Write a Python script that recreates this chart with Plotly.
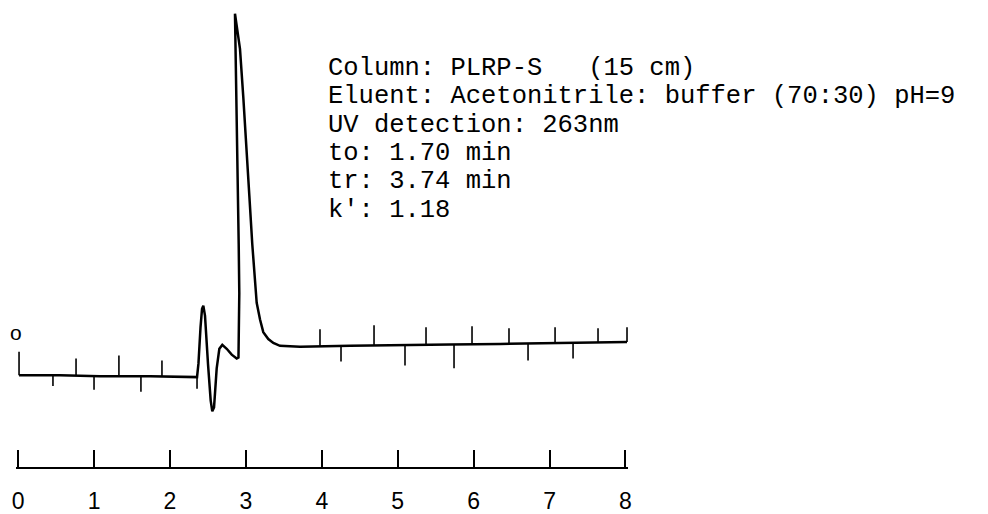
import numpy as np
import plotly.graph_objects as go

# Detector trace: retention time (min) and response (mAU)
trace_time = [0.011, 0.551, 1.078, 1.736, 2.356, 2.375, 2.402, 2.422, 2.439, 2.461,
              2.501, 2.536, 2.557, 2.580, 2.615, 2.650, 2.689, 2.747, 2.813, 2.879,
              2.902, 2.913, 2.905, 2.896, 2.887, 2.879, 2.870, 2.856, 2.876, 2.922,
              2.966, 3.001, 3.045, 3.084, 3.133, 3.142, 3.186, 3.229, 3.295, 3.361,
              3.449, 3.713, 4.372, 5.030, 5.689, 6.348, 7.138, 8.021]
trace_resp = [0.0, 0.0, -0.1, -0.1, -0.2, 1.2, 4.9, 6.8, 7.1, 6.1,
              1.1, -2.6, -3.7, -3.3, 0.7, 2.7, 3.1, 2.7, 2.1, 1.7,
              1.8, 8.4, 13.4, 18.4, 23.4, 28.4, 33.4, 37.0, 35.9, 33.4,
              28.4, 23.4, 18.4, 13.4, 8.4, 7.4, 5.7, 4.4, 3.7, 3.3,
              3.0, 2.9, 3.0, 3.1, 3.15, 3.2, 3.3, 3.4]

# Recorder event marks along the baseline: time and tip response
mark_time = [0.011, 0.458, 0.762, 0.999, 1.327, 1.617, 1.894, 2.356,
             3.976, 4.253, 4.688, 5.096, 5.373, 5.742, 5.979, 6.466,
             6.717, 7.073, 7.310, 7.639, 8.021]
mark_tip = [2.4, -1.1, 1.7, -1.5, 2.0, -1.7, 1.5, -1.4,
            4.7, 1.4, 5.1, 1.0, 4.9, 0.7, 5.0, 4.8,
            1.5, 4.9, 1.7, 4.8, 4.9]

# Time scale
tick_values = [0, 1, 2, 3, 4, 5, 6, 7, 8]
tick_labels = ["0", "1", "2", "3", "4", "5", "6", "7", "8"]

# Run conditions
info_lines = [
    "Column: PLRP-S   (15 cm)",
    "Eluent: Acetonitrile: buffer (70:30) pH=9",
    "UV detection: 263nm",
    "to: 1.70 min",
    "tr: 3.74 min",
    "k': 1.18",
]

t = np.array(trace_time)
r = np.array(trace_resp)
outside_peak = (t < 2.36) | (t > 3.44)
mark_base = np.interp(mark_time, t[outside_peak], r[outside_peak])

mx, my = [], []
for tm, b, tip in zip(mark_time, mark_base, mark_tip):
    mx += [tm, tm, None]
    my += [b, tip, None]

fig = go.Figure()
fig.add_trace(go.Scatter(x=mx, y=my, mode="lines",
                         line=dict(color="black", width=1.6),
                         hoverinfo="skip", showlegend=False))
fig.add_trace(go.Scatter(x=trace_time, y=trace_resp, mode="lines",
                         line=dict(color="black", width=2.5),
                         showlegend=False))

# Conditions block, one annotation per line (paper coordinates)
plot_h = 478
for i, txt in enumerate(info_lines):
    y_px = 70 + i * 29
    fig.add_annotation(x=(326 - 16) / 612, y=1 - y_px / plot_h, xref="paper", yref="paper",
                       text=txt, showarrow=False, xanchor="left", yanchor="middle",
                       font=dict(family="Liberation Mono", size=25.5, color="black"))

# Zero marker of the recorder trace
fig.add_annotation(x=0.0, y=1 - 340 / plot_h, xref="paper", yref="paper", text="o",
                   showarrow=False, xanchor="center", yanchor="middle",
                   font=dict(family="Liberation Sans", size=21, color="black"))

fig.update_layout(
    width=988, height=514,
    margin=dict(l=16, r=360, t=0, b=36),
    paper_bgcolor="white", plot_bgcolor="white",
    xaxis=dict(range=[-0.029, 8.034], showgrid=False, zeroline=False,
               showline=True, linecolor="black", linewidth=2,
               ticks="inside", ticklen=17, tickwidth=1.8, tickcolor="black",
               tickvals=tick_values, ticktext=tick_labels,
               tickfont=dict(family="Liberation Sans", size=23, color="black"),
               ticklabelstandoff=12),
    yaxis=dict(range=[-9.4, 38.4], visible=False),
)

fig.write_html("out.html")
